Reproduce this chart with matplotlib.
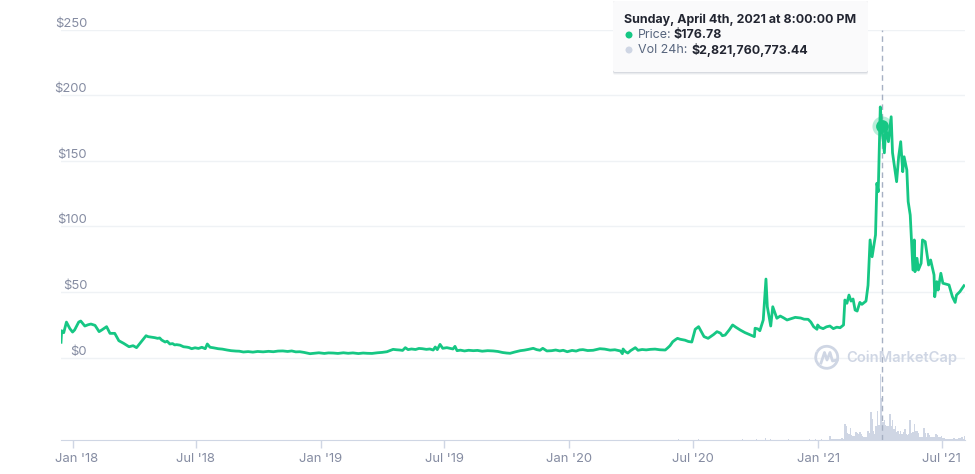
import numpy as np
import matplotlib
matplotlib.use("Agg")
import matplotlib.pyplot as plt
import matplotlib.dates as mdates
from matplotlib.patches import FancyBboxPatch, Arc, Circle
from matplotlib.transforms import ScaledTranslation

plt.rcParams['font.family'] = ['Inter', 'DejaVu Sans']

# price, days counted from 2018-01-01
price_day = [-17, -16, -13, -9, -4, 0, 3, 9, 12, 18, 23, 27, 33, 39, 43, 50, 55, 62, 68, 75, 83, 89, 94,
             101, 108, 111, 121, 131, 143, 153, 163, 175, 190, 195, 198, 202, 214, 227, 251, 309, 334, 349,
             383, 433, 462, 471, 481, 489, 493, 514, 530, 533, 536, 540, 544, 550, 559, 562, 565, 589,
             618, 643, 658, 677, 687, 691, 697, 721, 727, 750, 765, 775, 805, 808, 809, 816, 827, 831,
             849, 871, 875, 882, 889, 893, 910, 915, 920, 928, 934, 947, 959, 970, 981, 993, 1002, 1003,
             1010, 1015, 1019, 1021, 1026, 1029, 1035, 1040, 1050, 1062, 1081, 1089, 1094, 1095, 1103,
             1113, 1118, 1128, 1133, 1135, 1138, 1141, 1144, 1147, 1150, 1153, 1157, 1160, 1166, 1169,
             1172, 1175, 1180, 1182, 1184, 1187, 1189, 1193, 1195, 1199, 1203, 1205, 1211, 1214, 1217,
             1220, 1222, 1226, 1228, 1231, 1235, 1237, 1238, 1241, 1243, 1247, 1249, 1253, 1258, 1261,
             1266, 1267, 1270, 1272, 1276, 1279, 1288, 1293, 1297, 1299, 1304, 1310]
price_usd = [11.6, 20.4, 18.9, 27, 22, 19.4, 21, 27, 27.8, 24, 25, 25.5, 24.5, 19.7, 21, 23.5, 18.4, 18.4, 12.8, 10.8, 8.2, 9, 7.5,
             12, 16.6, 15.9, 15.1, 13.3, 10.3, 9.8, 8.2, 6.7, 7.8, 6.7, 10.3, 7.8, 6.7, 5.7, 4.2, 5, 4.4, 2.9,
             3.4, 3.2, 4.4, 6.2, 5.7, 7.5, 6, 6.7, 5.7, 8, 6, 10, 7, 7.5, 6.5, 8.5, 5.2, 5.2,
             5, 3.2, 5.2, 7, 5.5, 7, 5, 5.5, 4.4, 6, 5.5, 6.7, 5, 2.9, 6.5, 3.4, 7.5, 5.5,
             6.2, 5.7, 7.5, 12, 14.6, 13.9, 11.8, 21.5, 23.5, 15.9, 14.6, 19.7, 17.1, 24.8, 21, 17.9, 15.9, 22.3,
             20.4, 28.6, 59.8, 38.7, 24, 38.7, 29.9, 31.6, 28.6, 30.6, 29.1, 23.5, 21.5, 24.8, 22,
             24, 22, 22.7, 24.8, 43.8, 41.3, 47.6, 43, 44.6, 36.2, 35.4, 42, 40.5, 43, 55,
             89.6, 76.8, 93.4, 132.8, 126.4, 191, 176.78, 156, 175, 164.5, 183.5, 156, 134, 153, 164.5,
             141.6, 153, 143, 118.8, 108.6, 66.7, 89.6, 65.4, 75.6, 66.7, 71.8, 89.6, 88.3, 70.5, 74.3,
             62.9, 46.3, 57.8, 51.4, 64.2, 56.6, 55.3, 46.3, 42, 47.6, 50.2, 54.7]

# smaller wiggles in the quiet stretches
detail_day = [125, 128, 136, 139, 147, 150, 158, 168, 171, 180, 185, 207, 220, 233, 240, 245, 258, 265, 272, 280,
              288, 295, 302, 316, 322, 328, 340, 355, 362, 370, 376, 390, 398, 405, 412, 420, 427, 440, 448, 455,
              466, 476, 485, 498, 504, 509, 520, 525, 570, 576, 582, 595, 602, 610, 625, 632, 638, 650, 664, 670,
              682, 704, 710, 716, 734, 740, 745, 757, 770, 782, 790, 797, 812, 820, 837, 843, 856, 863, 878, 886,
              900, 905, 942, 952, 955, 965, 975, 988, 998, 1007, 1045, 1055, 1070, 1075, 1085, 1098, 1108, 1123]
detail_usd = [14.6, 14.9, 11.8, 12.4, 10.6, 9.6, 9.4, 7.9, 7.6, 7.4, 6.9, 7.4, 6.4, 5.2, 4.9, 4.8, 4.5, 4.1, 4.6, 4.3,
              4.7, 4.4, 4.9, 4.6, 5, 4.3, 3.9, 3.2, 3.6, 3.1, 3.5, 3.1, 3.6, 3.2, 3.5, 3, 3.4, 3.1, 3.6, 3.9,
              5.2, 5.9, 5.4, 6.5, 6.1, 6.9, 6.2, 6.5, 5.6, 5, 5.5, 5.4, 4.8, 5.2, 4.6, 3.8, 3.4, 4.2, 5.6, 6.2,
              6, 5.2, 5.7, 5, 5.4, 4.9, 5.8, 5.3, 6.1, 6.4, 5.6, 5.9, 4.6, 5.2, 6.1, 5.8, 6.4, 5.9, 9, 13.6,
              13.2, 12.2, 17.5, 18.6, 16.6, 21, 23, 19, 16.8, 21.8, 30.2, 29.4, 30.1, 29.2, 27, 23, 23.4, 23.1]

# 24h volume in $bn, one bar every second day from day 1113
volume_bn = [.23, .06, .04, .03, .02, .02, .02, .03, .04, .07, .05,
             1.08, .9, .45, .34, .75, .32, .23, .23, .5, .45, .34, .5, .4, .23, .18, .15, .2, .55, .45,
             1.85, 1.4, .55, .4, .9, 1.9, 1.0, 4.4, 2.82, 1.2, 1.35, 1.0, .9, .9, 1.7, .9, 1.3, .7, .9, .5,
             .55, .35, .55, .4, .5, .68, .35, .3, .35, 1.3, .45, .5, 1.05, .6, .55, .45, .2, .2, .15, .78,
             .45, .2, .45, .3, .18, .2, .18, .2, .4, .3, .18, .15, .27, .1, .08, .06, .05, .06, .04, .05,
             .06, .08, .05, .05, .04, .08, .1, .18, .06, .22]
early_volume_day = [890, 920, 985, 1005, 1019, 1026, 1052, 1083, 1092, 1101]
early_volume_bn = [.03, .03, .03, .04, .09, .05, .03, .04, .06, .04]

tick_days = [0, 181, 365, 546, 730, 912, 1096, 1277]
tick_labels = ["Jan '18", "Jul '18", "Jan '19", "Jul '19", "Jan '20", "Jul '20", "Jan '21", "Jul '21"]
price_ticks = [0, 50, 100, 150, 200, 250]
price_labels = ['$0', '$50', '$100', '$150', '$200', '$250']

hover_day = 1189
hover_price = 176.78

GREEN = '#16C784'
GRID = '#EFF2F5'
AXIS = '#CFD6E4'
LABEL = '#858CA2'
DARK = '#222531'

base = mdates.date2num(np.datetime64('2018-01-01'))

fig = plt.figure(figsize=(9.75, 4.74), dpi=100)
ax = fig.add_axes([61/975, 1 - 439.5/474, 904/975, 410/474])
vol = ax.twinx()
ax.set_zorder(vol.get_zorder() + 1)
ax.patch.set_visible(False)

volume_day = np.arange(1113, 1113 + 2*len(volume_bn), 2)
vol.bar(base + volume_day, volume_bn, width=2.2, color=AXIS, linewidth=0)
vol.bar(base + np.array(early_volume_day), early_volume_bn, width=1.5, color=AXIS, linewidth=0)
vol.set_ylim(0, 27.75)
vol.set_yticks([])

all_day = np.array(price_day + detail_day)
all_usd = np.array(price_usd + detail_usd)
order = np.argsort(all_day, kind='stable')
ax.plot(base + all_day[order], all_usd[order], color=GREEN, lw=2, solid_joinstyle='round', zorder=3)
ax.plot([base + hover_day]*2, [-62.5, 250], color='#A6B0C3', lw=1, dashes=(4, 3), zorder=2, clip_on=False)
ax.scatter(base + hover_day, hover_price, s=210, color=GREEN, alpha=0.3, linewidth=0, zorder=4)
ax.scatter(base + hover_day, hover_price, s=85, color=GREEN, linewidth=0, zorder=5)

ax.set_xlim(base - 17, base + 1311.5)
ax.set_ylim(-62.5, 250)
ax.set_xticks(base + np.array(tick_days))
ax.set_xticklabels(tick_labels)
ax.set_yticks(price_ticks)
ax.set_yticklabels(price_labels, va='bottom')
ax.tick_params(axis='y', length=0, pad=-18.8, labelsize=9.4, labelcolor=LABEL)
ax.tick_params(axis='x', length=6, width=1, color=AXIS, pad=3.5, labelsize=9.4, labelcolor=LABEL)
ax.grid(axis='y', color=GRID, lw=1)
ax.set_axisbelow(True)
for s in ['top', 'left', 'right']:
    ax.spines[s].set_visible(False)
    vol.spines[s].set_visible(False)
ax.spines['bottom'].set_color(AXIS)
vol.spines['bottom'].set_visible(False)

# first label is pushed right so it stays inside the chart
first = ax.get_xticklabels()[0]
first.set_transform(first.get_transform() + ScaledTranslation(3.5/100, 0, fig.dpi_scale_trans))

# overlay in pixels for tooltip and watermark
over = fig.add_axes([0, 0, 1, 1], zorder=10)
over.set_xlim(0, 975)
over.set_ylim(474, 0)
over.axis('off')

for off, a in [(3, .05), (2, .08), (1, .12)]:
    over.add_patch(FancyBboxPatch((613, 1), 255, 71 + off, boxstyle='round,pad=0,rounding_size=2',
                                  fc='#58667E', ec='none', alpha=a))
over.add_patch(FancyBboxPatch((613, 1), 255, 71, boxstyle='round,pad=0,rounding_size=2', fc='#FAFAFB', ec='none'))
over.text(624.5, 19.5, 'Sunday, April 4th, 2021 at 8:00:00 PM', fontsize=8.95, fontweight='bold', color=DARK, va='center')
over.add_patch(Circle((629, 35), 3.5, fc=GREEN, ec='none'))
over.add_patch(Circle((629, 50), 3.5, fc=AXIS, ec='none'))
over.text(637.5, 35, 'Price:', fontsize=8.95, color='#58667E', va='center')
over.text(673.5, 35, '$176.78', fontsize=8.95, fontweight='bold', color=DARK, va='center')
over.text(637.5, 50, 'Vol 24h:', fontsize=8.95, color='#58667E', va='center')
over.text(691, 50, '$2,821,760,773.44', fontsize=8.95, fontweight='bold', color=DARK, va='center')

# CoinMarketCap watermark
over.add_patch(Arc((826.7, 357.3), 22, 22, theta1=-150, theta2=130, angle=0, color=AXIS, lw=2))
over.add_patch(Arc((826.7, 357.3), 22, 22, theta1=130, theta2=210, color=AXIS, lw=2))
over.plot([821, 824.5, 827, 830, 832.5, 837], [363, 352.5, 360, 352.5, 361, 360], color=AXIS, lw=2, solid_joinstyle='round')
over.text(846, 358, 'CoinMarketCap', fontsize=10.6, fontweight='semibold', color=AXIS, va='center')

fig.savefig('out.png', dpi=100)
